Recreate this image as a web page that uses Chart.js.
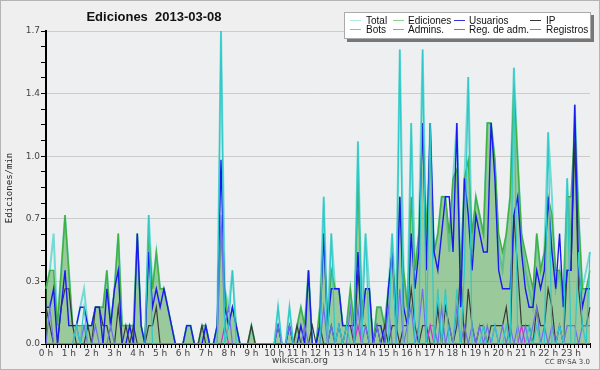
<!DOCTYPE html>
<html>
<head>
<meta charset="utf-8">
<script src="https://cdn.jsdelivr.net/npm/chart.js@4"></script>
<style>
  html, body { margin: 0; padding: 0; background: #efefef; }
  #wrap { position: relative; width: 600px; height: 370px; box-sizing: border-box; border: 1px solid #b4b4b4; }
  canvas { position: absolute; left: -1px; top: -1px; }
</style>
</head>
<body>
<div id="wrap"><canvas id="canvas" width="600" height="370"></canvas></div>
<script>
// hours shown on the x axis, one point every 10 minutes
var horas = ['0 h', '1 h', '2 h', '3 h', '4 h', '5 h', '6 h', '7 h', '8 h', '9 h', '10 h', '11 h',
             '12 h', '13 h', '14 h', '15 h', '16 h', '17 h', '18 h', '19 h', '20 h', '21 h', '22 h', '23 h'];

// edits per minute, 10 minute bins (6 per hour)
var total = [
  0.3, 0.4, 0.6, 0.1, 0.4, 0.7,   0.4, 0.1, 0.1, 0.2, 0.3, 0.1,
  0.1, 0.2, 0.2, 0.2, 0.4, 0.1,   0.3, 0.6, 0.1, 0.1, 0.1, 0.1,
  0.6, 0.1, 0.0, 0.7, 0.3, 0.5,   0.3, 0.3, 0.2, 0.1, 0.0, 0.0,
  0.0, 0.1, 0.1, 0.0, 0.0, 0.1,   0.1, 0.0, 0.0, 0.1, 1.7, 0.3,
  0.2, 0.4, 0.1, 0.0, 0.0, 0.0,   0.1, 0.0, 0.0, 0.0, 0.0, 0.0,
  0.0, 0.2, 0.0, 0.0, 0.2, 0.0,   0.1, 0.2, 0.1, 0.4, 0.0, 0.0,
  0.2, 0.8, 0.1, 0.6, 0.3, 0.3,   0.1, 0.1, 0.3, 0.1, 1.1, 0.2,
  0.6, 0.3, 0.0, 0.2, 0.2, 0.1,   0.3, 0.6, 0.2, 1.6, 0.4, 0.2,
  1.2, 0.4, 0.6, 1.6, 0.5, 1.2,   0.5, 0.6, 0.8, 0.8, 0.5, 0.9,
  1.2, 0.4, 0.9, 1.45, 0.5, 0.8,  0.7, 0.6, 1.2, 1.2, 1.0, 0.5,
  0.4, 0.6, 0.8, 1.5, 1.0, 0.6,   0.4, 0.3, 0.2, 0.6, 0.4, 0.5,
  1.15, 0.8, 0.3, 0.4, 0.2, 0.9,  0.5, 1.3, 0.7, 0.3, 0.4, 0.5
];
var ediciones = [
  0.3, 0.4, 0.4, 0.1, 0.4, 0.7,   0.4, 0.1, 0.1, 0.1, 0.1, 0.1,
  0.1, 0.2, 0.2, 0.2, 0.4, 0.1,   0.3, 0.6, 0.1, 0.1, 0.1, 0.1,
  0.6, 0.1, 0.0, 0.6, 0.3, 0.5,   0.3, 0.3, 0.2, 0.1, 0.0, 0.0,
  0.0, 0.1, 0.1, 0.0, 0.0, 0.1,   0.1, 0.0, 0.0, 0.1, 0.6, 0.3,
  0.1, 0.2, 0.1, 0.0, 0.0, 0.0,   0.1, 0.0, 0.0, 0.0, 0.0, 0.0,
  0.0, 0.1, 0.0, 0.0, 0.1, 0.0,   0.1, 0.2, 0.1, 0.4, 0.0, 0.0,
  0.2, 0.6, 0.1, 0.4, 0.3, 0.3,   0.1, 0.1, 0.3, 0.1, 0.9, 0.2,
  0.3, 0.3, 0.0, 0.2, 0.2, 0.1,   0.3, 0.5, 0.2, 0.8, 0.4, 0.2,
  0.8, 0.4, 0.6, 1.2, 0.6, 1.1,   0.5, 0.6, 0.8, 0.8, 0.6, 0.9,
  0.95, 0.4, 0.9, 1.0, 0.6, 0.8,  0.7, 0.6, 1.2, 1.2, 1.0, 0.6,
  0.5, 0.6, 0.8, 1.4, 1.0, 0.6,   0.5, 0.4, 0.3, 0.6, 0.4, 0.5,
  0.8, 0.7, 0.4, 0.4, 0.3, 0.8,   0.8, 1.2, 0.7, 0.3, 0.3, 0.4
];
var usuarios = [
  0.2, 0.2, 0.3, 0.0, 0.2, 0.4,   0.1, 0.1, 0.1, 0.2, 0.2, 0.1,
  0.1, 0.2, 0.2, 0.0, 0.3, 0.1,   0.3, 0.4, 0.0, 0.0, 0.1, 0.0,
  0.6, 0.1, 0.0, 0.5, 0.2, 0.3,   0.2, 0.3, 0.2, 0.1, 0.0, 0.0,
  0.0, 0.1, 0.1, 0.0, 0.0, 0.0,   0.1, 0.0, 0.0, 0.1, 1.0, 0.2,
  0.1, 0.2, 0.1, 0.0, 0.0, 0.0,   0.0, 0.0, 0.0, 0.0, 0.0, 0.0,
  0.0, 0.1, 0.0, 0.0, 0.1, 0.0,   0.0, 0.1, 0.0, 0.4, 0.0, 0.0,
  0.1, 0.6, 0.1, 0.3, 0.3, 0.3,   0.1, 0.1, 0.1, 0.1, 0.5, 0.1,
  0.3, 0.3, 0.0, 0.1, 0.1, 0.0,   0.3, 0.5, 0.1, 0.8, 0.2, 0.1,
  0.6, 0.3, 0.5, 1.2, 0.4, 1.2,   0.5, 0.4, 0.6, 0.8, 0.8, 0.5,
  1.2, 0.2, 0.9, 0.7, 0.4, 0.7,   0.6, 0.5, 0.5, 1.2, 0.9, 0.4,
  0.3, 0.3, 0.3, 0.7, 0.8, 0.5,   0.3, 0.2, 0.2, 0.4, 0.3, 0.4,
  0.8, 0.5, 0.3, 0.6, 0.2, 0.4,   0.4, 1.3, 0.4, 0.2, 0.3, 0.3
];
var ip = [
  0.2, 0.1, 0.0, 0.0, 0.2, 0.3,   0.3, 0.1, 0.0, 0.0, 0.0, 0.1,
  0.0, 0.2, 0.2, 0.1, 0.1, 0.0,   0.0, 0.2, 0.0, 0.1, 0.0, 0.1,
  0.0, 0.0, 0.0, 0.1, 0.1, 0.2,   0.0, 0.0, 0.0, 0.0, 0.0, 0.0,
  0.0, 0.0, 0.0, 0.0, 0.0, 0.1,   0.0, 0.0, 0.0, 0.0, 0.0, 0.0,
  0.0, 0.0, 0.0, 0.0, 0.0, 0.0,   0.1, 0.0, 0.0, 0.0, 0.0, 0.0,
  0.0, 0.0, 0.0, 0.0, 0.0, 0.0,   0.1, 0.0, 0.0, 0.0, 0.1, 0.0,
  0.1, 0.0, 0.0, 0.1, 0.0, 0.1,   0.0, 0.1, 0.1, 0.0, 0.4, 0.1,
  0.1, 0.0, 0.0, 0.1, 0.0, 0.1,   0.0, 0.1, 0.1, 0.0, 0.1, 0.1,
  0.3, 0.1, 0.0, 0.1, 0.1, 0.0,   0.0, 0.2, 0.0, 0.2, 0.1, 0.0,
  0.1, 0.4, 0.0, 0.3, 0.1, 0.0,   0.1, 0.1, 0.0, 0.1, 0.1, 0.1,
  0.1, 0.2, 0.0, 0.7, 0.4, 0.1,   0.1, 0.1, 0.0, 0.2, 0.1, 0.1,
  0.3, 0.2, 0.0, 0.1, 0.0, 0.4,   0.4, 1.1, 0.3, 0.1, 0.1, 0.2
];
var bots = new Array(144).fill(0);
var admins = [
  0.0, 0.0, 0.0, 0.0, 0.0, 0.0,   0.0, 0.0, 0.1, 0.0, 0.2, 0.0,
  0.0, 0.0, 0.0, 0.0, 0.0, 0.0,   0.0, 0.0, 0.0, 0.0, 0.0, 0.0,
  0.0, 0.0, 0.0, 0.7, 0.0, 0.0,   0.0, 0.0, 0.0, 0.0, 0.0, 0.0,
  0.0, 0.0, 0.0, 0.0, 0.0, 0.0,   0.0, 0.0, 0.0, 0.0, 1.7, 0.0,
  0.1, 0.4, 0.0, 0.0, 0.0, 0.0,   0.0, 0.0, 0.0, 0.0, 0.0, 0.0,
  0.0, 0.2, 0.0, 0.0, 0.2, 0.0,   0.0, 0.0, 0.0, 0.0, 0.0, 0.0,
  0.0, 0.8, 0.0, 0.6, 0.0, 0.1,   0.0, 0.1, 0.0, 0.0, 1.1, 0.0,
  0.6, 0.0, 0.0, 0.0, 0.0, 0.0,   0.0, 0.6, 0.0, 1.6, 0.0, 0.0,
  1.2, 0.0, 0.0, 1.6, 0.0, 1.2,   0.0, 0.3, 0.0, 0.3, 0.0, 0.0,
  0.3, 0.0, 0.4, 1.45, 0.0, 0.0,  0.0, 0.1, 0.0, 0.0, 0.1, 0.0,
  0.0, 0.1, 0.0, 1.5, 0.0, 0.0,   0.0, 0.1, 0.0, 0.1, 0.0, 0.0,
  1.15, 0.0, 0.0, 0.1, 0.0, 0.9,  0.0, 0.0, 0.5, 0.1, 0.0, 0.5
];
var regAdm = new Array(144).fill(0);
regAdm[47] = 0.1; regAdm[82] = 0.1; regAdm[101] = 0.1; regAdm[125] = 0.1;
var registros = [
  0.0, 0.2, 0.0, 0.0, 0.0, 0.0,   0.0, 0.0, 0.1, 0.0, 0.1, 0.0,
  0.0, 0.1, 0.0, 0.0, 0.0, 0.1,   0.0, 0.0, 0.0, 0.0, 0.0, 0.0,
  0.0, 0.0, 0.0, 0.0, 0.0, 0.0,   0.0, 0.0, 0.0, 0.0, 0.0, 0.0,
  0.0, 0.0, 0.0, 0.0, 0.0, 0.0,   0.0, 0.0, 0.0, 0.0, 0.7, 0.1,
  0.2, 0.0, 0.0, 0.0, 0.0, 0.0,   0.0, 0.0, 0.0, 0.0, 0.0, 0.0,
  0.0, 0.1, 0.0, 0.0, 0.1, 0.0,   0.0, 0.0, 0.1, 0.0, 0.0, 0.0,
  0.0, 0.2, 0.0, 0.1, 0.0, 0.1,   0.0, 0.0, 0.2, 0.0, 0.2, 0.0,
  0.1, 0.0, 0.0, 0.1, 0.0, 0.0,   0.2, 0.0, 0.0, 0.3, 0.0, 0.1,
  0.2, 0.0, 0.1, 0.3, 0.0, 0.1,   0.1, 0.0, 0.2, 0.0, 0.1, 0.0,
  0.2, 0.0, 0.1, 0.0, 0.1, 0.0,   0.1, 0.0, 0.1, 0.0, 0.1, 0.0,
  0.1, 0.0, 0.1, 0.0, 0.1, 0.0,   0.1, 0.0, 0.1, 0.2, 0.0, 0.1,
  0.0, 0.1, 0.0, 0.1, 0.0, 0.1,   0.1, 0.1, 0.0, 0.1, 0.1, 0.1
];

var legendItems = [
  ['Total', '#aee9e2'], ['Ediciones', '#8fd28f'], ['Usuarios', '#3333dd'], ['IP', '#333333'],
  ['Bots', '#f0a040'], ['Admins.', '#33cccc'], ['Reg. de adm.', '#cc44cc'], ['Registros', '#7777ee']
];

var etiquetas = [];
for (var i = 0; i < total.length; i++) {
  etiquetas.push(i % 6 === 0 ? horas[i / 6] : '');
}

function serie(label, data, color, width, extra) {
  var ds = {
    label: label,
    data: data,
    borderColor: color,
    borderWidth: width,
    pointRadius: 0,
    lineTension: 0,
    fill: false
  };
  for (var k in extra) ds[k] = extra[k];
  return ds;
}

// first in the list is drawn on top
var datos = {
  labels: etiquetas,
  datasets: [
    serie('Admins.', admins, '#2fc9c9', 1.2, {}),
    serie('Reg. de adm.', regAdm, '#cc33cc', 1.2, {}),
    serie('Registros', registros, '#6f6fee', 1.2, {}),
    serie('Usuarios', usuarios, '#1a1aee', 1.4, {}),
    serie('IP', ip, '#3a3a3a', 1.2, {}),
    serie('Bots', bots, '#f0a040', 1, {}),
    serie('Ediciones', ediciones, '#40b040', 1.4, {fill: 'origin', backgroundColor: 'rgba(70,165,70,0.5)'}),
    serie('Total', total, 'rgba(64,210,200,0.7)', 2, {})
  ]
};
datos.datasets.forEach(function (d, n) { d.order = n; });

var decor = {
  id: 'decor',
  beforeDraw: function (chart) {
    var c = chart.ctx, a = chart.chartArea;
    c.save();
    c.fillStyle = '#eeeff1';
    c.fillRect(a.left, a.top, a.right - a.left, a.bottom - a.top);
    c.restore();
  },
  afterDraw: function (chart) {
    var c = chart.ctx;
    c.save();
    // title
    c.fillStyle = '#111';
    c.font = 'bold 13px "Liberation Sans"';
    c.textAlign = 'center';
    c.textBaseline = 'middle';
    c.fillText('Ediciones  2013-03-08', 154, 17);
    // y title
    c.save();
    c.translate(10, 188);
    c.rotate(-Math.PI / 2);
    c.font = '9px "DejaVu Sans Mono"';
    c.fillStyle = '#222';
    c.fillText('Ediciones/min', 0, 0);
    c.restore();
    // footer
    c.font = '9px "DejaVu Sans"';
    c.fillStyle = '#444';
    c.fillText('wikiscan.org', 300, 361);
    c.font = '7px "DejaVu Sans"';
    c.textAlign = 'right';
    c.fillText('CC BY-SA 3.0', 590, 362);
    // legend box with shadow
    c.fillStyle = '#777';
    c.fillRect(347, 15, 247, 27);
    c.fillStyle = '#ffffff';
    c.fillRect(344, 12, 247, 27);
    c.strokeStyle = '#aaa';
    c.lineWidth = 1;
    c.strokeRect(344.5, 12.5, 246, 26);
    var sampleX = [350, 393, 454, 530];
    var textX = [366, 408, 469, 546];
    c.font = '10px "Liberation Sans"';
    c.textAlign = 'left';
    legendItems.forEach(function (it, n) {
      var y = n < 4 ? 20 : 29;
      c.strokeStyle = it[1];
      c.beginPath();
      c.moveTo(sampleX[n % 4], y + 0.5);
      c.lineTo(sampleX[n % 4] + 11, y + 0.5);
      c.stroke();
      c.fillStyle = '#111';
      c.fillText(it[0], textX[n % 4], y + 1);
    });
    c.restore();
  }
};

new Chart(document.getElementById('canvas').getContext('2d'), {
  type: 'line',
  data: datos,
  plugins: [decor],
  options: {
    responsive: false,
    animation: false,
    events: [],
    layout: { padding: { left: 0, right: 10, top: 31, bottom: 0 } },
    plugins: { legend: { display: false }, title: { display: false }, tooltip: { enabled: false } },
    scales: {
      x: {
        type: 'category',
        afterFit: function (s) { s.height = 26; },
        grid: { drawOnChartArea: false, tickLength: 4, tickColor: '#000' },
        border: { color: '#000', width: 2 },
        ticks: { autoSkip: false, maxRotation: 0, padding: 0, color: '#444', font: { family: 'DejaVu Sans', size: 9 } }
      },
      y: {
        min: 0,
        max: 1.7,
        afterFit: function (s) { s.width = 46; },
        afterBuildTicks: function (s) {
          var t = [];
          for (var k = 0; k <= 20; k++) t.push({ value: k * 85 / 1000 });
          s.ticks = t;
        },
        grid: {
          tickLength: 5,
          tickColor: '#000',
          color: function (ctx) { return ctx.index % 4 === 0 && ctx.index > 0 ? '#cccccc' : 'rgba(0,0,0,0)'; }
        },
        border: { color: '#000', width: 2 },
        ticks: {
          padding: 1,
          color: '#444',
          font: { family: 'DejaVu Sans', size: 9 },
          callback: function (v, n) { return n % 4 === 0 ? v.toFixed(1) : ''; }
        }
      }
    }
  }
});
</script>
</body>
</html>
